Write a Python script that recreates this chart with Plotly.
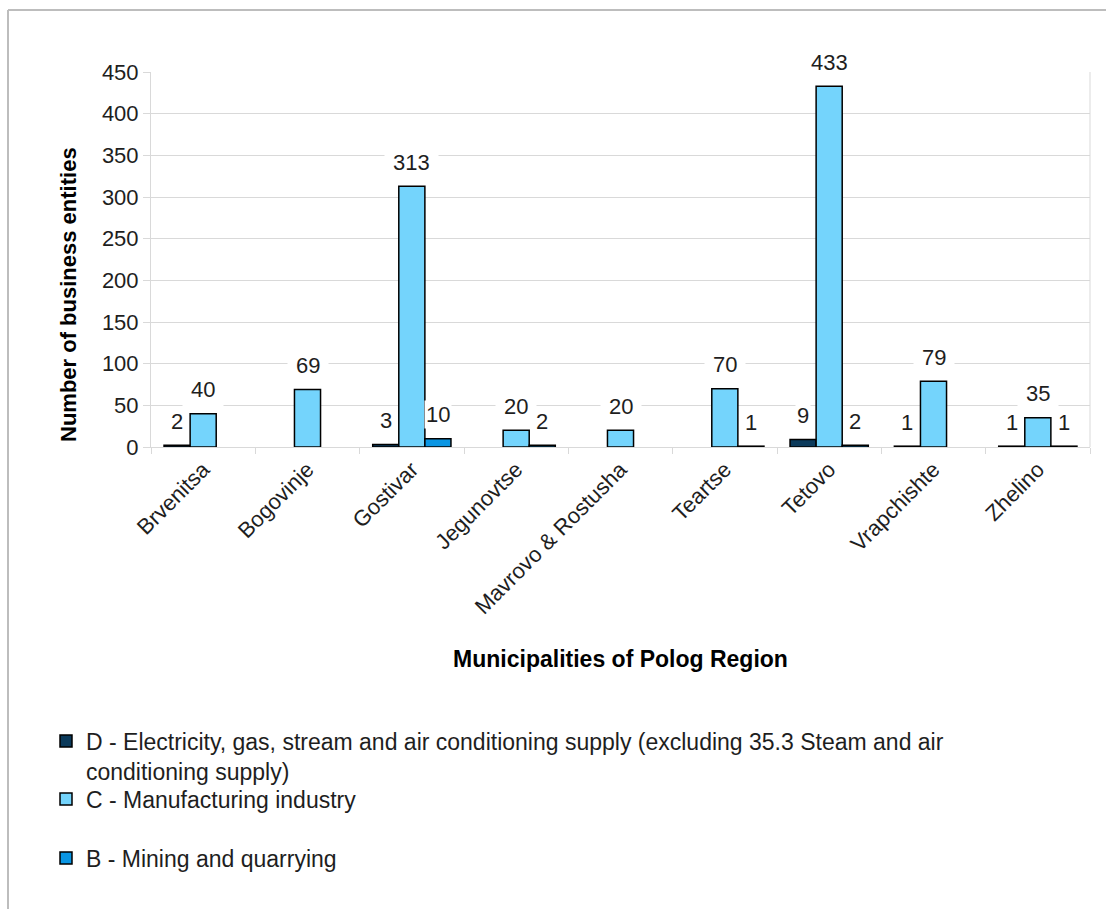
import plotly.graph_objects as go

# ---------------- data ----------------
categories = ["Brvenitsa", "Bogovinje", "Gostivar", "Jegunovtse", "Mavrovo & Rostusha",
              "Teartse", "Tetovo", "Vrapchishte", "Zhelino"]
series_D = [2, None, 3, None, None, None, 9, 1, 1]
series_C = [40, 69, 313, 20, 20, 70, 433, 79, 35]
series_B = [None, None, 10, 2, None, 1, 2, None, 1]

name_D = "D - Electricity, gas, stream and air conditioning supply (excluding 35.3 Steam and air<br>conditioning supply)"
name_C = "C - Manufacturing industry"
name_B = "B - Mining and quarrying"

x_title = "Municipalities of Polog Region"
y_title = "Number of business entities"

y_ticks = [0, 50, 100, 150, 200, 250, 300, 350, 400, 450]

# ---------------- layout constants ----------------
W, H = 1106, 909
ML, MR, MT, MB = 151, 16, 72, 462
plot_w = W - ML - MR
plot_h = H - MT - MB
bargap = 0.25
bar_px = plot_w / len(categories) * (1 - bargap) / 3

FONT = "Liberation Sans, Arial, sans-serif"
TXT = "#1e1e1e"
GRID = "#d9d9d9"

col_D = "#0b3a5b"
col_C = "#74d4fc"
col_B = "#0a96e4"

fig = go.Figure()
series = [
    (name_D, series_D, col_D, "legend", -1),
    (name_C, series_C, col_C, "legend2", 0),
    (name_B, series_B, col_B, "legend3", 1),
]
for name, vals, col, leg, off in series:
    fig.add_trace(go.Bar(
        x=categories, y=vals, name=name, legend=leg,
        marker=dict(color=col, line=dict(color="#000000", width=1.5)),
        hoverinfo="x+y",
    ))
    for cat, v in zip(categories, vals):
        if v is None:
            continue
        fig.add_annotation(
            x=cat, y=v, text=str(v), showarrow=False,
            xref="x", yref="y", xshift=off * bar_px, yshift=24,
            yanchor="middle", xanchor="center",
            bgcolor="white", borderpad=(8 if off == 0 else 1),
            font=dict(family=FONT, size=22, color=TXT),
        )

# y-axis title (rotated text left of the tick labels)
fig.add_annotation(
    text="<b>" + y_title + "</b>", textangle=-90, showarrow=False,
    xref="paper", yref="paper", x=(68 - ML) / plot_w, y=1 - (295 - MT) / plot_h,
    xanchor="center", yanchor="middle",
    font=dict(family=FONT, size=22, color="#000000"),
)

leg_common = dict(xref="container", yref="container", xanchor="left", yanchor="middle",
                  valign="top", bgcolor="rgba(0,0,0,0)", borderwidth=0,
                  font=dict(family=FONT, size=23, color=TXT),
                  itemclick=False, itemdoubleclick=False)

fig.update_layout(
    width=W, height=H,
    margin=dict(l=ML, r=MR, t=MT, b=MB, autoexpand=False),
    paper_bgcolor="white", plot_bgcolor="white",
    barmode="group", bargap=bargap, bargroupgap=0,
    font=dict(family=FONT, size=22, color=TXT),
    showlegend=True,
    legend=dict(x=46 / W, y=1 - 756 / H, **leg_common),
    legend2=dict(x=46 / W, y=1 - 799 / H, **leg_common),
    legend3=dict(x=46 / W, y=1 - 858 / H, **leg_common),
    xaxis=dict(
        type="category", tickangle=-45, tickson="boundaries",
        ticks="outside", ticklen=6, tickcolor=GRID,
        showline=True, linecolor=GRID, linewidth=1,
        showgrid=False,
        tickfont=dict(family=FONT, size=22, color=TXT),
        title=dict(text="<b>" + x_title + "</b>", standoff=32,
                   font=dict(family=FONT, size=23, color="#000000")),
    ),
    yaxis=dict(
        range=[0, 450], tickvals=y_ticks, ticktext=[str(t) for t in y_ticks],
        ticks="outside", ticklen=7, tickcolor=GRID,
        showline=True, linecolor=GRID, linewidth=1,
        showgrid=True, gridcolor=GRID, gridwidth=1, zeroline=False,
        ticksuffix="  ",
        tickfont=dict(family=FONT, size=22, color=TXT),
    ),
    shapes=[
        dict(type="line", xref="paper", yref="paper", x0=1, x1=1, y0=0, y1=1,
             line=dict(color=GRID, width=1)),
        dict(type="line", xref="paper", yref="paper",
             x0=(8 - ML) / plot_w, x1=(W + 5 - ML) / plot_w,
             y0=1 + (MT - 10) / plot_h, y1=1 + (MT - 10) / plot_h,
             line=dict(color="#bdbdbd", width=2)),
        dict(type="line", xref="paper", yref="paper",
             x0=(8 - ML) / plot_w, x1=(8 - ML) / plot_w,
             y0=1 + (MT - 10) / plot_h, y1=-(H + 5 - MT - plot_h) / plot_h,
             line=dict(color="#bdbdbd", width=2)),
    ],
)

fig.write_html("out.html")
